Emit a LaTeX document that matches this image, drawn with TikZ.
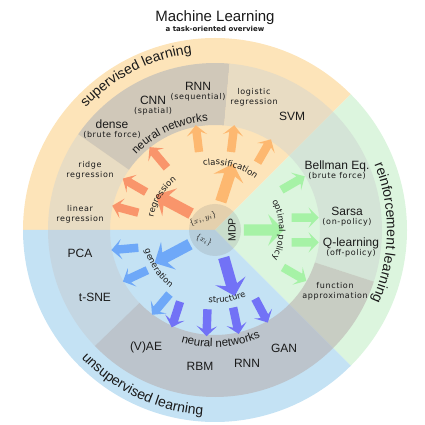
\documentclass[tikz,border=0pt]{standalone}
\usepackage{fontspec}
\setmainfont{Liberation Sans}
\newfontfamily\dvsans{DejaVu Sans}
\newfontfamily\dvwide[LetterSpace=8]{DejaVu Sans}
\usetikzlibrary{shapes,arrows,positioning,decorations.text}

\definecolor{supout}{HTML}{FDE4B9}
\definecolor{supmid}{HTML}{E8DCC3}
\definecolor{supnet}{HTML}{D0C8B9}
\definecolor{rlout}{HTML}{DCF5DE}
\definecolor{rlmid}{HTML}{D4E4D7}
\definecolor{rlfun}{HTML}{C8CDC3}
\definecolor{unout}{HTML}{C4E2F4}
\definecolor{unmid}{HTML}{C4D6E2}
\definecolor{unnet}{HTML}{BCC4CC}
\definecolor{regcol}{HTML}{F9956B}
\definecolor{clscol}{HTML}{FDB870}
\definecolor{rlcol}{HTML}{A6F2A6}
\definecolor{gencol}{HTML}{6EA8F8}
\definecolor{strcol}{HTML}{7272F6}
\definecolor{ink}{HTML}{1A1A1A}

% ring piece: colour, from angle, to angle, inner radius, outer radius
\newcommand\ringpart[5]{\fill[#1] (#2:#4) arc[start angle=#2, end angle=#3, radius=#4] -- (#3:#5) arc[start angle=#3, end angle=#2, radius=#5] -- cycle;}
% text along an arc: format, text, from angle, to angle, radius
\newcommand\arctext[5]{\path[decorate, decoration={text along path, text align=center, text color=ink, text={|#1|#2}}] (#3:#5) arc[start angle=#3, end angle=#4, radius=#5];}

\begin{document}
\begin{tikzpicture}[x=1pt, y=1pt, text=ink]

    % Define node styles
    \tikzstyle{method} = [font=\fontsize{12}{12}\selectfont, align=center, inner sep=0pt]
    \tikzstyle{minor} = [font=\dvwide\fontsize{8}{10}\selectfont, align=center, inner sep=0pt]
    \tikzstyle{bigarrow} = [single arrow, minimum height=40pt, inner xsep=0pt, inner ysep=5.5pt, single arrow head extend=10pt, single arrow head indent=4pt]
    \tikzstyle{smallarrow} = [single arrow, minimum height=27pt, inner xsep=0pt, inner ysep=4pt, single arrow head extend=6pt, single arrow head indent=3pt]
    \newcommand\sub[1]{{\dvwide\fontsize{8}{8}\selectfont #1}}

    \useasboundingbox (0,0) rectangle (425,425);

    % Title
    \node (title) at (215,407) {\fontsize{15}{15}\selectfont Machine Learning};
    \node[font=\dvsans\bfseries\fontsize{7}{7}\selectfont] (subtitle) at (215,396) {a task-oriented overview};

    \begin{scope}[shift={(215,195)}]

    % Draw sectors
    \fill[supout] (0,0) -- (45:192) arc[start angle=45, end angle=180, radius=192] -- cycle;
    \fill[rlout] (0,0) -- (-45:192) arc[start angle=-45, end angle=45, radius=192] -- cycle;
    \fill[unout] (0,0) -- (180:192) arc[start angle=180, end angle=315, radius=192] -- cycle;
    \ringpart{supmid}{145}{180}{105}{167}
    \ringpart{supnet}{85}{145}{105}{167}
    \ringpart{supmid}{45}{85}{105}{167}
    \ringpart{rlmid}{-18}{45}{105}{167}
    \ringpart{rlfun}{-45}{-18}{105}{167}
    \ringpart{unmid}{180}{224}{105}{167}
    \ringpart{unnet}{224}{315}{105}{167}

    % Draw arrows
    \node[bigarrow, fill=regcol, rotate=152] (regbig) at (148:46) {};
    \node[bigarrow, fill=clscol, rotate=72] (clsbig) at (76:46) {};
    \node[bigarrow, fill=rlcol] (rlbig) at (0:46) {};
    \node[bigarrow, fill=gencol, rotate=208] (genbig) at (209:46) {};
    \node[bigarrow, fill=strcol, rotate=286] (strbig) at (287:46) {};
    \foreach \a/\d in {167/165, 151/150, 128/130}
        \node[smallarrow, fill=regcol, rotate=\d] (reg\a) at (\a:90) {};
    \foreach \a/\d in {101/97, 79/83, 58/60}
        \node[smallarrow, fill=clscol, rotate=\d] (cls\a) at (\a:91) {};
    \foreach \a/\d in {31/30, 8/0, -8/0, -29/-30}
        \node[smallarrow, fill=rlcol, rotate=\d] (rl\a) at (\a:89) {};
    \foreach \a/\d in {192/185, 210/205, 234/230}
        \node[smallarrow, fill=gencol, rotate=\d] (gen\a) at (\a:90) {};
    \foreach \a/\d in {245/252, 265/268, 283/282, 300/298}
        \node[smallarrow, fill=strcol, rotate=\d] (str\a) at (\a:91) {};

    % Data in the middle
    \node[circle, fill=gray, fill opacity=0.2, minimum size=52pt, inner sep=0pt] (data) at (0,0) {};
    \node[rotate=20, font=\fontsize{8}{8}\selectfont] (pairs) at (-12,11) {$\{x_i,y_i\}$};
    \node[rotate=-25, font=\fontsize{8}{8}\selectfont] (points) at (-11,-10) {$\{x_i\}$};
    \node[rotate=90, font=\fontsize{10.5}{10.5}\selectfont] (mdp) at (17,0) {MDP};

    % Tasks
    \arctext{\dvsans\fontsize{8.5}{8.5}\selectfont}{regression}{208}{88}{63}
    \arctext{\dvsans\fontsize{8.5}{8.5}\selectfont}{classification}{136}{16}{65}
    \arctext{\dvsans\fontsize{8.5}{8.5}\selectfont}{optimal policy}{60}{-60}{64}
    \arctext{\dvsans\fontsize{8.5}{8.5}\selectfont}{generation}{154}{274}{73}
    \arctext{\dvsans\fontsize{8.5}{8.5}\selectfont}{structure}{220}{340}{73}

    % Fields
    \arctext{\fontsize{14}{14}\selectfont}{supervised learning}{177}{57}{178}
    \arctext{\fontsize{14}{14}\selectfont}{reinforcement learning}{59}{-61}{172}
    \arctext{\fontsize{14}{14}\selectfont}{unsupervised learning}{185}{305}{185}
    \arctext{\fontsize{11.5}{11.5}\selectfont}{neural networks}{175}{55}{109}
    \arctext{\fontsize{11.5}{11.5}\selectfont}{neural networks}{213}{333}{117}

    % Methods
    \node[minor] (linreg) at (-135,16) {linear\\regression};
    \node[minor] (ridge) at (-125,60) {ridge\\regression};
    \node[method] (dense) at (-103,101) {dense\\[-3pt]\sub{(brute force)}};
    \node[method] (cnn) at (-62,124) {CNN\\[-3pt]\sub{(spatial)}};
    \node[method] (rnnsup) at (-17,138) {RNN\\[-3pt]\sub{(sequential)}};
    \node[minor] (logreg) at (39,133) {logistic\\regression};
    \node[method] (svm) at (77,114) {SVM};
    \node[method] (bellman) at (122,60) {Bellman Eq.\\[-3pt]\sub{(brute force)}};
    \node[method] (sarsa) at (132,13) {Sarsa\\[-3pt]\sub{(on-policy)}};
    \node[method] (qlearn) at (136,-17) {Q-learning\\[-3pt]\sub{(off-policy)}};
    \node[minor] (funapp) at (120,-61) {function\\approximation};
    \node[method] (pca) at (-135,-23) {PCA};
    \node[method] (tsne) at (-120,-67) {t-SNE};
    \node[method] (vae) at (-69,-117) {(V)AE};
    \node[method] (rbm) at (-15,-136) {RBM};
    \node[method] (rnnuns) at (32,-133) {RNN};
    \node[method] (gan) at (69,-118) {GAN};

    \end{scope}

\end{tikzpicture}
\end{document}
